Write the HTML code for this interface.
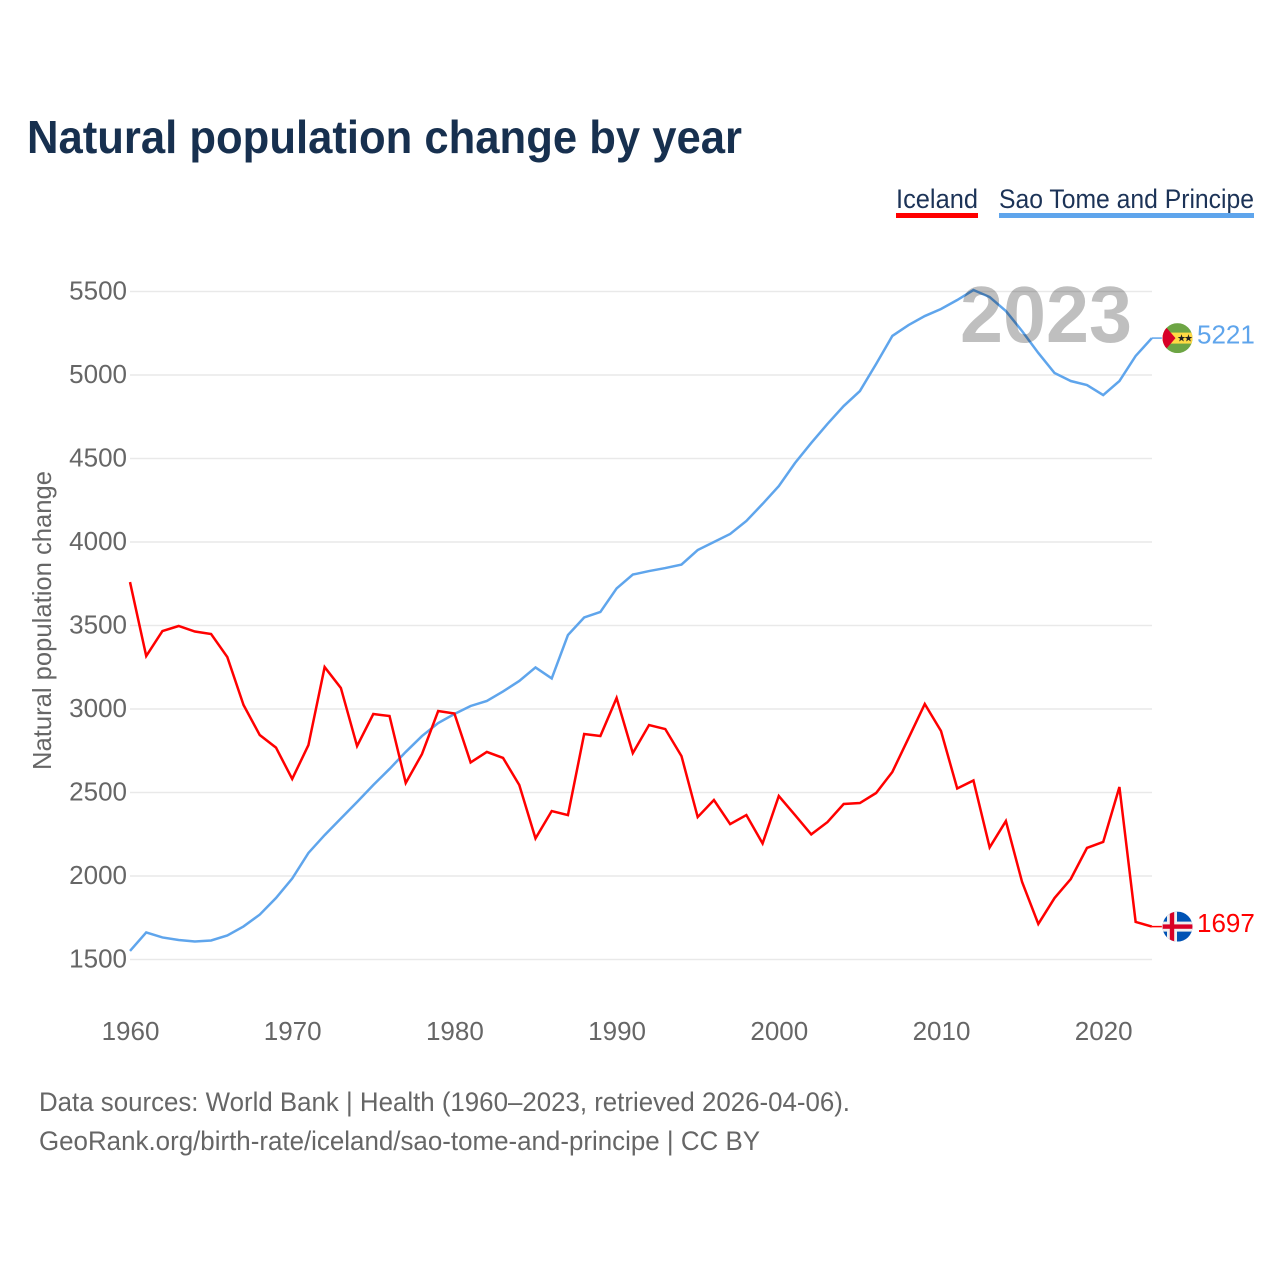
<!DOCTYPE html>
<html lang="en">
<head>
<meta charset="utf-8">
<title>Natural population change by year</title>
<style>
html,body{margin:0;padding:0;background:#fff;width:1280px;height:1280px;overflow:hidden}
svg{display:block;font-family:"Liberation Sans",sans-serif}
</style>
</head>
<body>
<svg id="chart" xmlns="http://www.w3.org/2000/svg" width="1280" height="1280" viewBox="0 0 1280 1280">
  <defs>
    <clipPath id="clip-st"><circle cx="0" cy="0" r="15"/></clipPath>
    <clipPath id="clip-is"><circle cx="0" cy="0" r="15"/></clipPath>
  </defs>
  <rect width="1280" height="1280" fill="#ffffff"/>
  <text x="27" y="153" font-size="46" font-weight="700" fill="#17304f" textLength="715" lengthAdjust="spacingAndGlyphs">Natural population change by year</text>

  <g>
    <g>
      <text x="896" y="208" font-size="27" fill="#1c3357" textLength="82" lengthAdjust="spacingAndGlyphs">Iceland</text>
      <rect x="896" y="213" width="82" height="5" fill="#ff0000"/>
    </g>
    <g>
      <text x="999" y="208" font-size="27" fill="#1c3357" textLength="255" lengthAdjust="spacingAndGlyphs">Sao Tome and Principe</text>
      <rect x="999" y="213" width="255" height="5" fill="#5fa5ec"/>
    </g>
  </g>

  <g id="grid"></g>
  <g id="y-ticks"></g>
  <g id="x-ticks"></g>
  <text transform="translate(51,770) rotate(-90)" font-size="26" fill="#666666" textLength="299" lengthAdjust="spacingAndGlyphs">Natural population change</text>
  <g id="series"></g>

  <g id="flag-st">
    <g clip-path="url(#clip-st)">
      <rect x="-15" y="-15" width="30" height="30" fill="#6da544"/>
      <rect x="-15" y="-5.5" width="30" height="11" fill="#ffda44"/>
      <polygon points="-15,-15 -2,0 -15,15" fill="#d80027"/>
      <text x="4" y="3.5" font-size="10" text-anchor="middle" fill="#222222">★</text>
      <text x="11" y="3.5" font-size="10" text-anchor="middle" fill="#222222">★</text>
    </g>
  </g>
  <g id="flag-is">
    <g clip-path="url(#clip-is)">
      <rect x="-15" y="-15" width="30" height="30" fill="#0052b4"/>
      <rect x="-15" y="-5" width="30" height="10" fill="#f0f0f0"/>
      <rect x="-10.5" y="-15" width="10" height="30" fill="#f0f0f0"/>
      <rect x="-15" y="-2.2" width="30" height="4.4" fill="#d80027"/>
      <rect x="-7.7" y="-15" width="4.4" height="30" fill="#d80027"/>
    </g>
  </g>

  <text x="960" y="342" font-size="80" font-weight="700" fill="#000000" fill-opacity="0.25" textLength="172" lengthAdjust="spacingAndGlyphs">2023</text>

  <text x="39" y="1111" font-size="27" fill="#666666" textLength="811" lengthAdjust="spacingAndGlyphs">Data sources: World Bank | Health (1960–2023, retrieved 2026-04-06).</text>
  <text x="39" y="1150" font-size="27" fill="#666666" textLength="721" lengthAdjust="spacingAndGlyphs">GeoRank.org/birth-rate/iceland/sao-tome-and-principe | CC BY</text>
</svg>
<script>
const firstYear = 1960;
const iceland = [3760,3317,3467,3497,3464,3449,3311,3024,2844,2769,2581,2784,3251,3126,2778,2970,2958,2557,2730,2988,2973,2680,2743,2707,2545,2225,2389,2365,2850,2838,3066,2736,2904,2880,2718,2353,2455,2311,2365,2195,2479,2365,2249,2323,2431,2437,2497,2623,2826,3030,2868,2524,2572,2171,2329,1964,1713,1868,1982,2168,2204,2533,1725,1697];
const saoTome = [1551,1662,1632,1617,1608,1614,1644,1698,1769,1868,1985,2138,2245,2344,2443,2545,2641,2743,2838,2916,2970,3018,3048,3105,3168,3249,3183,3443,3548,3581,3722,3805,3826,3844,3865,3952,4000,4048,4126,4228,4335,4473,4593,4707,4814,4904,5066,5234,5299,5353,5395,5449,5509,5467,5383,5263,5132,5012,4964,4940,4880,4964,5114,5221];
const yTickValues = [1500,2000,2500,3000,3500,4000,4500,5000,5500];
const xTickValues = [1960,1970,1980,1990,2000,2010,2020];

const NS = 'http://www.w3.org/2000/svg';
function xScale(year){ return 130 + (year - 1960) * 16.22; }
function yScale(v){ return 959.5 - (v - 1500) * 0.167; }
function make(tag, attrs, parent){
  const el = document.createElementNS(NS, tag);
  for (const k in attrs) el.setAttribute(k, attrs[k]);
  parent.appendChild(el);
  return el;
}

const grid = document.getElementById('grid');
const yTicks = document.getElementById('y-ticks');
yTickValues.forEach(function(v){
  const line = make('line', {x1:130, x2:1152, y1:yScale(v), y2:yScale(v), stroke:'#e9e9e9', 'stroke-width':1.5}, grid);
  
  
  const label = make('text', {x:127, y:yScale(v)+8, 'text-anchor':'end', 'font-size':26, fill:'#666666'}, yTicks);
  label.textContent = v;
  
  
});

const xTicks = document.getElementById('x-ticks');
xTickValues.forEach(function(y){
  const label = make('text', {x:xScale(y) + 0.5, y:1040, 'text-anchor':'middle', 'font-size':26, fill:'#666666'}, xTicks);
  label.textContent = y;
  
  
});

const seriesGroup = document.getElementById('series');
function drawSeries(values, color, key, flagId){
  const pts = values.map(function(v, i){
    return xScale(firstYear + i).toFixed(2) + ',' + yScale(v).toFixed(2);
  });
  const lastV = values[values.length - 1];
  const lastY = yScale(lastV);
  const lastX = xScale(firstYear + values.length - 1);
  const line = make('polyline', {points:pts.join(' '), fill:'none', stroke:color, 'stroke-width':2.5, 'stroke-linejoin':'miter'}, seriesGroup);
  
  
  const conn = make('line', {x1:lastX, x2:lastX + 10, y1:lastY, y2:lastY, stroke:color, 'stroke-width':1.5}, seriesGroup);
  
  
  document.getElementById(flagId).setAttribute('transform', 'translate(1177.5,' + lastY + ')');
  const label = make('text', {x:1197, y:lastY + 5.5, 'font-size':26, fill:color}, seriesGroup);
  label.textContent = lastV;
  
  
}
drawSeries(saoTome, '#5fa5ec', 'sao-tome', 'flag-st');
drawSeries(iceland, '#ff0000', 'iceland', 'flag-is');
</script>
</body>
</html>
